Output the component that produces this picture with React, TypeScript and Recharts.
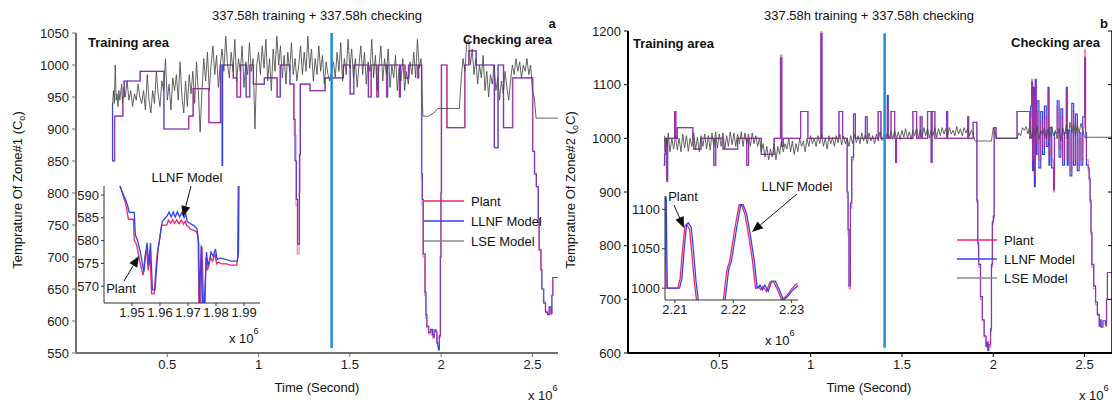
import React from 'react';
import { LineChart, Line, XAxis, YAxis } from 'recharts';

type Pt = [number, number];

const FONT = 'Liberation Sans, Arial, Helvetica, sans-serif';
const PLANT = '#f0226e';
const LLNF = '#2f45e8';
const LSE = '#4a4a4a';
const DIVIDER = '#1b8fd2';

const titleText = '337.58h training + 337.58h checking';
const mainXTicks = [0.5, 1, 1.5, 2, 2.5];
const leftYTicks = [550, 600, 650, 700, 750, 800, 850, 900, 950, 1000, 1050];
const rightYTicks = [600, 700, 800, 900, 1000, 1100, 1200];
const insetAXTicks = [1.95, 1.96, 1.97, 1.98, 1.99];
const insetAYTicks = [570, 575, 580, 585, 590];
const insetBXTicks = [2.21, 2.22, 2.23];
const insetBYTicks = [1000, 1050, 1100];
const legendNames = ['Plant', 'LLNF Model', 'LSE Model'];

const dividerA: Pt[] = [[1.4, 558], [1.4, 1050]];
const dividerB: Pt[] = [[1.405, 610], [1.405, 1196]];

// ---------- Panel a (Zone #1) ----------
const leftPlant: Pt[] = [
  [0.198, 850], [0.21, 920], [0.255, 950], [0.262, 975], [0.35, 990], [0.48, 900], [0.616, 920],
  [0.64, 963], [0.726, 910], [0.79, 1000], [0.86, 980], [0.88, 950], [0.9, 1000], [0.93, 950],
  [0.95, 1000], [0.97, 970], [1.03, 980], [1.1, 950], [1.117, 1000], [1.17, 970], [1.195, 890],
  [1.205, 780], [1.212, 705], [1.222, 800], [1.227, 970], [1.28, 960], [1.363, 980], [1.463, 1000],
  [1.5, 955], [1.52, 1000], [1.6, 950], [1.615, 1000], [1.646, 950], [1.655, 1000], [1.7, 950],
  [1.705, 1000], [1.77, 950], [1.775, 1000], [1.8, 980], [1.82, 1000], [1.87, 980], [1.875, 1000],
  [1.892, 820], [1.895, 780], [1.9, 700], [1.91, 640], [1.915, 605], [1.92, 590], [1.93, 580],
  [1.94, 585], [1.95, 577], [1.955, 573], [1.96, 585], [1.97, 582], [1.975, 565], [1.98, 575],
  [1.99, 574], [1.995, 700], [1.998, 800], [2.0, 1000], [2.03, 902], [2.128, 1000], [2.15, 1022],
  [2.19, 1000], [2.29, 871], [2.31, 1000], [2.34, 902], [2.39, 980], [2.5, 865], [2.51, 830],
  [2.52, 810], [2.53, 760], [2.535, 711], [2.545, 680], [2.55, 650], [2.56, 630], [2.57, 615],
  [2.58, 612], [2.59, 620], [2.6, 610], [2.605, 640], [2.61, 668], [2.64, 668],
];

const leftLlnf: Pt[] = [
  [0.198, 940], [0.2, 850], [0.212, 920], [0.257, 950], [0.264, 975], [0.352, 990], [0.482, 900],
  [0.618, 920], [0.642, 963], [0.728, 910], [0.792, 1000], [0.8, 843], [0.803, 1000], [0.862, 980],
  [0.882, 950], [0.902, 1000], [0.932, 950], [0.952, 1000], [0.972, 970], [1.032, 980], [1.102, 950],
  [1.119, 1000], [1.172, 970], [1.193, 915], [1.2, 850], [1.207, 790], [1.214, 720], [1.224, 860],
  [1.229, 970], [1.282, 960], [1.365, 980], [1.465, 1000], [1.502, 955], [1.522, 1000], [1.602, 950],
  [1.617, 1000], [1.648, 950], [1.657, 1000], [1.702, 950], [1.707, 1000], [1.772, 950], [1.777, 1000],
  [1.802, 980], [1.822, 1000], [1.872, 980], [1.877, 1000], [1.894, 830], [1.897, 790], [1.902, 705],
  [1.912, 645], [1.917, 610], [1.922, 592], [1.932, 582], [1.942, 587], [1.952, 579], [1.957, 575],
  [1.962, 586], [1.972, 583], [1.977, 566], [1.982, 560], [1.985, 555], [1.99, 577], [1.996, 700],
  [1.999, 800], [2.002, 1000], [2.032, 902], [2.13, 1000], [2.152, 1022], [2.192, 1000], [2.292, 871],
  [2.312, 1000], [2.342, 902], [2.392, 980], [2.502, 865], [2.512, 830], [2.522, 810], [2.532, 760],
  [2.537, 711], [2.547, 680], [2.552, 650], [2.562, 628], [2.572, 614], [2.582, 610], [2.592, 622],
  [2.602, 612], [2.607, 640], [2.612, 668], [2.64, 668],
];

const leftLse: Pt[] = [
  [0.2, 935], [0.205, 960], [0.21, 940], [0.215, 1000], [0.22, 945], [0.225, 955], [0.23, 935],
  [0.235, 960], [0.24, 945], [0.25, 970], [0.255, 940], [0.26, 965], [0.27, 950], [0.28, 975],
  [0.29, 945], [0.3, 960], [0.31, 935], [0.32, 955], [0.33, 945], [0.34, 970], [0.35, 950],
  [0.36, 940], [0.37, 960], [0.38, 930], [0.39, 985], [0.4, 945], [0.41, 925], [0.42, 960],
  [0.43, 940], [0.44, 990], [0.45, 955], [0.46, 935], [0.47, 975], [0.48, 960], [0.49, 1010],
  [0.5, 945], [0.51, 970], [0.52, 930], [0.53, 980], [0.54, 960], [0.55, 985], [0.56, 945],
  [0.57, 1005], [0.58, 950], [0.59, 925], [0.6, 975], [0.61, 935], [0.62, 985], [0.63, 955],
  [0.64, 990], [0.65, 940], [0.66, 1005], [0.67, 960], [0.68, 895], [0.69, 960], [0.7, 1010],
  [0.71, 975], [0.72, 1020], [0.73, 960], [0.74, 1000], [0.75, 1030], [0.76, 985], [0.77, 1015],
  [0.78, 965], [0.79, 1000], [0.8, 1025], [0.81, 990], [0.82, 1045], [0.83, 1000], [0.84, 980],
  [0.85, 1020], [0.86, 990], [0.87, 1040], [0.88, 975], [0.89, 1010], [0.9, 990], [0.91, 1030],
  [0.92, 965], [0.93, 1005], [0.94, 985], [0.95, 1035], [0.96, 990], [0.97, 1010], [0.98, 900],
  [0.99, 1000], [1.0, 1020], [1.01, 985], [1.02, 1030], [1.03, 995], [1.04, 1040], [1.05, 975],
  [1.06, 1010], [1.07, 960], [1.08, 1025], [1.09, 990], [1.1, 1045], [1.11, 1000], [1.12, 1030],
  [1.13, 980], [1.14, 1015], [1.15, 970], [1.16, 1020], [1.17, 990], [1.18, 1035], [1.19, 985],
  [1.2, 1010], [1.21, 975], [1.22, 1000], [1.23, 1030], [1.24, 985], [1.25, 1020], [1.26, 990],
  [1.27, 1045], [1.28, 995], [1.29, 1025], [1.3, 975], [1.31, 1010], [1.32, 985], [1.33, 1030],
  [1.34, 990], [1.35, 1015], [1.36, 970], [1.37, 1005], [1.38, 985], [1.39, 975], [1.4, 990],
  [1.41, 1005], [1.42, 980], [1.43, 1020], [1.44, 990], [1.45, 1035], [1.46, 975], [1.47, 1010],
  [1.48, 985], [1.49, 1040], [1.5, 995], [1.51, 1025], [1.52, 980], [1.53, 1010], [1.54, 965],
  [1.55, 1000], [1.56, 1030], [1.57, 985], [1.58, 1020], [1.59, 970], [1.6, 1005], [1.61, 990],
  [1.62, 1040], [1.63, 980], [1.64, 1015], [1.65, 960], [1.66, 1000], [1.67, 1030], [1.68, 975],
  [1.69, 1010], [1.7, 985], [1.71, 1025], [1.72, 965], [1.73, 1000], [1.74, 980], [1.75, 1015],
  [1.76, 960], [1.77, 995], [1.78, 975], [1.79, 1010], [1.8, 960], [1.81, 990], [1.82, 970],
  [1.83, 1005], [1.84, 985], [1.85, 1020], [1.86, 980], [1.87, 1040], [1.88, 995], [1.89, 1010],
  [1.9, 920], [1.93, 920], [1.94, 922], [1.96, 925], [1.98, 932], [2.1, 932], [2.11, 980],
  [2.12, 1010], [2.13, 990], [2.14, 1035], [2.15, 1040], [2.16, 1000], [2.17, 1025], [2.18, 985],
  [2.19, 1010], [2.2, 970], [2.21, 1000], [2.22, 980], [2.23, 1015], [2.24, 960], [2.25, 990],
  [2.26, 950], [2.27, 985], [2.28, 970], [2.29, 1000], [2.3, 960], [2.31, 980], [2.32, 945],
  [2.33, 975], [2.34, 955], [2.35, 990], [2.36, 965], [2.37, 945], [2.38, 975], [2.39, 1000],
  [2.4, 985], [2.41, 1010], [2.42, 990], [2.43, 1005], [2.44, 980], [2.45, 1000], [2.46, 990],
  [2.47, 1010], [2.48, 985], [2.49, 1000], [2.5, 960], [2.51, 950], [2.52, 917], [2.64, 917],
];

const insetAPlant: Pt[] = [
  [1.9457, 592.2], [1.9475, 588.5], [1.948, 587.4], [1.9487, 584.7], [1.9505, 584.7], [1.9508, 580.1],
  [1.9517, 579], [1.9526, 576], [1.9535, 573.5], [1.954, 572.4], [1.9546, 576.4], [1.9552, 577.9],
  [1.9558, 573.5], [1.9564, 577.9], [1.957, 568.3], [1.9579, 568.3], [1.9586, 574.2], [1.959, 577.1],
  [1.9598, 580.1], [1.9606, 583.4], [1.9624, 583.4], [1.963, 584.5], [1.9638, 583.8], [1.9645, 584.6],
  [1.9652, 583.8], [1.966, 584.6], [1.9668, 583.7], [1.9676, 584.5], [1.9684, 583.6], [1.969, 584.3],
  [1.9695, 583.4], [1.9707, 582.6], [1.9719, 582.3], [1.973, 581.9], [1.9736, 581], [1.9739, 566],
  [1.9745, 566], [1.975, 578.6], [1.9755, 566], [1.9761, 566], [1.9764, 576.4], [1.9769, 573.5],
  [1.9776, 574.9], [1.978, 576.4], [1.9788, 575.5], [1.9796, 577.1], [1.9802, 574.9], [1.9808, 575.3],
  [1.982, 574.9], [1.9838, 574.9], [1.985, 574.6], [1.9874, 574.6], [1.9877, 576.4], [1.9879, 592.2],
];

const insetALlnf: Pt[] = [
  [1.9455, 592.2], [1.9478, 588.8], [1.9484, 587.8], [1.949, 586.2], [1.9508, 586.2], [1.9512, 581.2],
  [1.952, 580], [1.953, 577.5], [1.9538, 574.5], [1.9543, 573.2], [1.9549, 577.5], [1.9554, 579.5],
  [1.956, 574.5], [1.9566, 579.5], [1.9573, 569.2], [1.9582, 569.2], [1.9589, 575], [1.9593, 578],
  [1.96, 581], [1.9608, 584.2], [1.9626, 585.5], [1.9632, 586.3], [1.964, 585.2], [1.9647, 586.3],
  [1.9654, 585.2], [1.9662, 586.3], [1.967, 585.2], [1.9678, 586.2], [1.9686, 585.1], [1.9692, 585.8],
  [1.9697, 584.2], [1.9709, 583.7], [1.9721, 583.3], [1.9732, 582.6], [1.9738, 579.5], [1.9741, 566],
  [1.9747, 579], [1.9752, 566], [1.9758, 566], [1.9766, 577.5], [1.9771, 574.5], [1.9778, 576],
  [1.9782, 577.5], [1.979, 576.5], [1.9798, 578.2], [1.9804, 575.8], [1.9815, 576.2], [1.984, 575.8],
  [1.9852, 575.5], [1.9876, 575.5], [1.988, 577], [1.9882, 592.2],
];

// ---------- Panel b (Zone #2) ----------
const rightPlant: Pt[] = [
  [0.195, 950], [0.203, 1000], [0.212, 920], [0.217, 1000], [0.255, 1050], [0.262, 1000], [0.27, 1020],
  [0.355, 1000], [0.36, 980], [0.4, 1000], [0.47, 950], [0.48, 1000], [0.52, 980], [0.6, 1000],
  [0.65, 950], [0.66, 1000], [0.73, 970], [0.8, 1000], [0.835, 1155], [0.842, 985], [0.85, 1000],
  [0.945, 1050], [0.985, 1000], [1.056, 1200], [1.062, 1000], [1.155, 1050], [1.175, 1000],
  [1.2, 890], [1.205, 820], [1.21, 720], [1.218, 870], [1.225, 960], [1.235, 1045], [1.245, 1000],
  [1.3, 1040], [1.31, 1000], [1.37, 1050], [1.385, 1000], [1.42, 1060], [1.425, 1000], [1.44, 1050],
  [1.46, 1000], [1.465, 955], [1.47, 1000], [1.56, 1050], [1.58, 1000], [1.6, 1040], [1.61, 1000],
  [1.64, 1050], [1.66, 955], [1.665, 1050], [1.68, 1000], [1.745, 1050], [1.75, 1000], [1.86, 1040],
  [1.865, 1000], [1.89, 1030], [1.91, 880], [1.915, 800], [1.92, 760], [1.93, 700], [1.94, 660],
  [1.95, 630], [1.96, 615], [1.97, 622], [1.975, 610], [1.985, 640], [1.99, 760], [1.995, 840],
  [2.0, 850], [2.005, 1020], [2.015, 1000], [2.13, 1050], [2.2, 1000], [2.205, 1040], [2.21, 1110],
  [2.215, 960], [2.22, 1080], [2.225, 930], [2.23, 1100], [2.235, 990], [2.24, 1050], [2.25, 960],
  [2.26, 1030], [2.27, 985], [2.28, 1040], [2.29, 1000], [2.3, 1090], [2.305, 970], [2.31, 1000],
  [2.32, 960], [2.33, 900], [2.335, 1000], [2.35, 1060], [2.36, 980], [2.37, 1040], [2.38, 960],
  [2.39, 1000], [2.4, 1090], [2.405, 960], [2.41, 1000], [2.42, 940], [2.43, 1050], [2.44, 960],
  [2.45, 1030], [2.46, 950], [2.47, 1000], [2.48, 960], [2.49, 1020], [2.5, 1165], [2.505, 1000],
  [2.51, 960], [2.52, 940], [2.525, 920], [2.53, 880], [2.535, 820], [2.54, 760], [2.55, 720],
  [2.56, 690], [2.57, 670], [2.58, 655], [2.585, 660], [2.59, 650], [2.6, 655], [2.615, 650],
  [2.62, 700], [2.625, 750], [2.65, 750],
];

const rightLlnf: Pt[] = [
  [0.195, 950], [0.2, 970], [0.203, 1000], [0.212, 920], [0.217, 1000], [0.255, 1050], [0.262, 1000],
  [0.27, 1020], [0.355, 1000], [0.36, 980], [0.4, 1000], [0.47, 950], [0.48, 1000], [0.52, 980],
  [0.6, 1000], [0.65, 950], [0.66, 1000], [0.73, 970], [0.8, 1000], [0.835, 1150], [0.842, 985],
  [0.85, 1000], [0.945, 1050], [0.985, 1000], [1.056, 1195], [1.062, 1000], [1.155, 1050],
  [1.175, 1000], [1.2, 900], [1.205, 830], [1.21, 725], [1.218, 880], [1.225, 965], [1.235, 1045],
  [1.245, 1000], [1.3, 1040], [1.31, 1000], [1.37, 1050], [1.385, 1000], [1.42, 1080], [1.425, 1000],
  [1.44, 1050], [1.46, 1000], [1.465, 955], [1.47, 1000], [1.56, 1050], [1.58, 1000], [1.6, 1040],
  [1.61, 1000], [1.64, 1050], [1.66, 955], [1.665, 1050], [1.68, 1000], [1.745, 1050], [1.75, 1000],
  [1.86, 1040], [1.865, 1000], [1.89, 1030], [1.91, 885], [1.915, 805], [1.92, 765], [1.93, 705],
  [1.94, 662], [1.95, 632], [1.96, 612], [1.965, 620], [1.97, 605], [1.975, 615], [1.985, 645],
  [1.99, 765], [1.995, 845], [2.0, 855], [2.005, 1020], [2.015, 1000], [2.13, 1050], [2.2, 1000],
  [2.205, 1060], [2.21, 1105], [2.215, 940], [2.22, 1095], [2.225, 910], [2.23, 1110], [2.235, 970],
  [2.24, 1070], [2.25, 945], [2.26, 1050], [2.27, 970], [2.28, 1060], [2.29, 985], [2.3, 1095],
  [2.305, 950], [2.31, 1020], [2.32, 945], [2.33, 905], [2.335, 1010], [2.35, 1070], [2.36, 965],
  [2.37, 1055], [2.38, 950], [2.39, 1010], [2.4, 1095], [2.405, 950], [2.41, 1015], [2.42, 930],
  [2.43, 1065], [2.44, 950], [2.45, 1045], [2.46, 940], [2.47, 1010], [2.48, 950], [2.49, 1040],
  [2.5, 1150], [2.505, 1010], [2.51, 950], [2.52, 945], [2.525, 925], [2.53, 885], [2.535, 825],
  [2.54, 765], [2.55, 725], [2.56, 695], [2.57, 672], [2.58, 650], [2.585, 662], [2.59, 648],
  [2.6, 660], [2.615, 652], [2.62, 700], [2.625, 750], [2.65, 750],
];

const rightLse: Pt[] = [
  [0.2, 1005], [0.205, 975], [0.21, 1000], [0.215, 985], [0.22, 1010], [0.23, 975], [0.24, 1000],
  [0.25, 980], [0.26, 1005], [0.27, 978], [0.28, 1000], [0.29, 975], [0.3, 1008], [0.31, 982],
  [0.32, 1005], [0.33, 976], [0.34, 1000], [0.35, 985], [0.36, 1010], [0.37, 978], [0.38, 1002],
  [0.39, 975], [0.4, 1005], [0.41, 985], [0.42, 1008], [0.43, 980], [0.44, 1005], [0.45, 978],
  [0.46, 1010], [0.47, 985], [0.48, 1012], [0.49, 982], [0.5, 1008], [0.51, 985], [0.52, 1010],
  [0.53, 980], [0.54, 1005], [0.55, 985], [0.56, 1012], [0.57, 988], [0.58, 1010], [0.59, 985],
  [0.6, 1008], [0.61, 990], [0.62, 1012], [0.63, 985], [0.64, 1010], [0.65, 990], [0.66, 1008],
  [0.67, 985], [0.68, 1010], [0.69, 990], [0.7, 1005], [0.71, 985], [0.72, 1000], [0.73, 975],
  [0.74, 990], [0.75, 965], [0.76, 985], [0.77, 960], [0.78, 980], [0.79, 965], [0.8, 990],
  [0.81, 960], [0.82, 985], [0.83, 970], [0.84, 995], [0.85, 975], [0.86, 990], [0.87, 980],
  [0.88, 1000], [0.89, 975], [0.9, 995], [0.91, 970], [0.92, 990], [0.93, 975], [0.94, 1000],
  [0.95, 985], [0.96, 995], [0.97, 975], [0.98, 1000], [0.99, 985], [1.0, 1005], [1.01, 990],
  [1.02, 1000], [1.03, 985], [1.04, 1005], [1.05, 990], [1.06, 1008], [1.07, 985], [1.08, 1000],
  [1.09, 980], [1.1, 1005], [1.11, 990], [1.12, 1002], [1.13, 985], [1.14, 1005], [1.15, 992],
  [1.16, 1008], [1.17, 988], [1.18, 1004], [1.19, 990], [1.2, 1000], [1.21, 985], [1.22, 1005],
  [1.23, 990], [1.24, 1008], [1.25, 992], [1.26, 1005], [1.27, 990], [1.28, 1010], [1.29, 995],
  [1.3, 1008], [1.31, 990], [1.32, 1010], [1.33, 995], [1.34, 1005], [1.35, 990], [1.36, 1008],
  [1.37, 995], [1.38, 1012], [1.39, 996], [1.4, 1005], [1.41, 998], [1.42, 1010], [1.43, 1000],
  [1.44, 1012], [1.45, 998], [1.46, 1015], [1.47, 1000], [1.48, 1012], [1.49, 998], [1.5, 1015],
  [1.51, 1002], [1.52, 1018], [1.53, 1000], [1.54, 1012], [1.55, 998], [1.56, 1015], [1.57, 1005],
  [1.58, 1020], [1.59, 1000], [1.6, 1015], [1.61, 1002], [1.62, 1020], [1.63, 1005], [1.64, 1018],
  [1.65, 1000], [1.66, 1015], [1.67, 1005], [1.68, 1020], [1.69, 1002], [1.7, 1018], [1.71, 1005],
  [1.72, 1020], [1.73, 1008], [1.74, 1018], [1.75, 1005], [1.76, 1020], [1.77, 1008], [1.78, 1015],
  [1.79, 1005], [1.8, 1022], [1.81, 1008], [1.82, 1018], [1.83, 1005], [1.84, 1020], [1.85, 1010],
  [1.86, 1018], [1.87, 1005], [1.88, 1015], [1.89, 1008], [1.9, 995], [1.99, 995], [2.0, 1020],
  [2.01, 1010], [2.02, 1000], [2.13, 1000], [2.14, 1010], [2.15, 1005], [2.16, 1020], [2.17, 1015],
  [2.18, 1022], [2.19, 1008], [2.2, 1025], [2.21, 1000], [2.22, 1018], [2.23, 1005], [2.24, 1022],
  [2.25, 998], [2.26, 1015], [2.27, 1005], [2.28, 1020], [2.29, 1000], [2.3, 1018], [2.31, 1002],
  [2.32, 1022], [2.33, 1005], [2.34, 1015], [2.35, 1000], [2.36, 1018], [2.37, 995], [2.38, 1020],
  [2.39, 1005], [2.4, 1025], [2.41, 1000], [2.42, 1030], [2.43, 1010], [2.44, 1028], [2.45, 1005],
  [2.46, 1025], [2.47, 1010], [2.48, 1028], [2.49, 1015], [2.5, 1002], [2.65, 1002],
];

const insetBPlant: Pt[] = [
  [2.2084, 1116], [2.2084, 1048], [2.2085, 1000], [2.2105, 1000], [2.2109, 1012.5], [2.2113, 1048],
  [2.2117, 1079], [2.212, 1081], [2.2125, 1075], [2.2129, 1044], [2.2133, 1010], [2.2137, 985],
  [2.214, 970], [2.2178, 970], [2.2183, 985], [2.2189, 1023], [2.2194, 1035], [2.2203, 1077],
  [2.221, 1106], [2.2214, 1106], [2.222, 1094], [2.2226, 1069], [2.2233, 1035], [2.2238, 1000],
  [2.2243, 1002], [2.2247, 998], [2.2251, 1002], [2.2257, 996], [2.2263, 1008], [2.2269, 1008],
  [2.2276, 998], [2.2283, 985], [2.2291, 990], [2.2297, 996], [2.2306, 1004], [2.231, 1006],
];

const insetBLlnf: Pt[] = [
  [2.2085, 1116], [2.2086, 1048], [2.2087, 1000], [2.2108, 1000], [2.2112, 1012.5], [2.2116, 1050],
  [2.212, 1081], [2.2123, 1083], [2.2128, 1077], [2.2132, 1046], [2.2136, 1010], [2.214, 985],
  [2.2143, 970], [2.2181, 970], [2.2186, 985], [2.2192, 1023], [2.2197, 1035], [2.2206, 1077],
  [2.2213, 1106], [2.2217, 1106], [2.2223, 1094], [2.2229, 1069], [2.2236, 1035], [2.2241, 1000],
  [2.2246, 1004], [2.225, 998], [2.2254, 1004], [2.226, 996], [2.2266, 1009], [2.2272, 1009],
  [2.2279, 998], [2.2286, 985], [2.2294, 990], [2.23, 996], [2.2309, 1002], [2.2312, 1004],
];

const rows = (p: Pt[]) => p.map(([x, y]) => ({ x, y }));

const tickStyle = { fill: '#1a1a1a', fontSize: 13, fontFamily: FONT };

function series(data: Pt[], color: string, type: 'stepAfter' | 'linear', width: number, opacity = 1) {
  return (
    <Line
      data={rows(data)}
      dataKey="y"
      type={type}
      dot={false}
      activeDot={false}
      isAnimationActive={false}
      stroke={color}
      strokeWidth={width}
      strokeOpacity={opacity}
      legendType="none"
    />
  );
}

function Arrow({ x1, y1, x2, y2 }: { x1: number; y1: number; x2: number; y2: number }) {
  const ang = Math.atan2(y2 - y1, x2 - x1);
  const L = 11;
  const W = 4.5;
  const bx = x2 - L * Math.cos(ang);
  const by = y2 - L * Math.sin(ang);
  const px = -Math.sin(ang) * W;
  const py = Math.cos(ang) * W;
  return (
    <g>
      <line x1={x1} y1={y1} x2={bx} y2={by} stroke="#111" strokeWidth={1} />
      <polygon points={`${x2},${y2} ${bx + px},${by + py} ${bx - px},${by - py}`} fill="#111" />
    </g>
  );
}

function Legend({ x, y0, gap }: { x: number; y0: number; gap: number }) {
  const colors = [PLANT, LLNF, '#8a8a8a'];
  return (
    <g>
      {legendNames.map((n, i) => (
        <g key={n}>
          <line x1={x} x2={x + 40} y1={y0 + i * gap} y2={y0 + i * gap} stroke={colors[i]} strokeWidth={1.3} />
          <text x={x + 47} y={y0 + i * gap + 5} fontSize={13} fontFamily={FONT} fill="#111">{n}</text>
        </g>
      ))}
    </g>
  );
}

export default function App() {
  return (
    <div style={{ position: 'absolute', left: 0, top: 0, width: 1112, height: 402, background: '#fff', overflow: 'hidden' }}>
      {/* Panel a */}
      <div style={{ position: 'absolute', left: 0, top: 0 }}>
        <LineChart width={560} height={402} margin={{ top: 33, right: 2, bottom: 19, left: 0 }}>
          <XAxis dataKey="x" type="number" domain={[0, 2.64]} ticks={mainXTicks} interval={0} allowDataOverflow
            height={30} tickSize={4} tickMargin={3} axisLine={{ stroke: '#707070', strokeWidth: 2 }}
            tickLine={{ stroke: '#707070' }} tick={tickStyle} />
          <YAxis type="number" domain={[550, 1050]} ticks={leftYTicks} interval={0} allowDataOverflow
            width={76} tickSize={4} tickMargin={3} axisLine={{ stroke: '#707070', strokeWidth: 2 }}
            tickLine={{ stroke: '#707070' }} tick={tickStyle} />
          {series(leftLlnf, LLNF, 'stepAfter', 1.2)}
          {series(leftPlant, PLANT, 'stepAfter', 1.2, 0.55)}
          {series(leftLse, LSE, 'linear', 1, 0.85)}
          {series(dividerA, DIVIDER, 'linear', 2.5)}
        </LineChart>
      </div>

      {/* Inset a */}
      <div style={{ position: 'absolute', left: 74, top: 180 }}>
        <LineChart width={196} height={160} margin={{ top: 6, right: 10, bottom: 12, left: 0 }}>
          <XAxis dataKey="x" type="number" domain={[1.94, 1.9957]} ticks={insetAXTicks} interval={0} allowDataOverflow
            height={25} tickSize={3} tickMargin={2} axisLine={{ stroke: '#333', strokeWidth: 1 }}
            tickLine={{ stroke: '#333' }} tick={tickStyle} tickFormatter={(v: number) => v.toFixed(2)} />
          <YAxis type="number" domain={[566.3, 592]} ticks={insetAYTicks} interval={0} allowDataOverflow
            width={30} tickSize={3} tickMargin={2} axisLine={{ stroke: '#333', strokeWidth: 1 }}
            tickLine={{ stroke: '#333' }} tick={tickStyle} />
          {series(insetAPlant, PLANT, 'linear', 1.3)}
          {series(insetALlnf, LLNF, 'linear', 1.3)}
        </LineChart>
      </div>

      {/* Panel b */}
      <div style={{ position: 'absolute', left: 560, top: 0 }}>
        <LineChart width={552} height={402} margin={{ top: 31, right: 0, bottom: 19, left: 0 }}>
          <XAxis dataKey="x" type="number" domain={[0, 2.65]} ticks={mainXTicks} interval={0} allowDataOverflow
            height={30} tickSize={4} tickMargin={3} axisLine={{ stroke: '#000', strokeWidth: 2 }}
            tickLine={{ stroke: '#000' }} tick={tickStyle} />
          <XAxis xAxisId="top" orientation="top" dataKey="x" type="number" domain={[0, 2.65]} ticks={mainXTicks}
            interval={0} allowDataOverflow height={0} tickSize={4} axisLine={{ stroke: '#000', strokeWidth: 2 }}
            tickLine={{ stroke: '#000' }} tick={tickStyle} tickFormatter={() => ''} />
          <YAxis type="number" domain={[600, 1200]} ticks={rightYTicks} interval={0} allowDataOverflow
            width={68} tickSize={4} tickMargin={3} axisLine={{ stroke: '#000', strokeWidth: 2 }}
            tickLine={{ stroke: '#000' }} tick={tickStyle} />
          <YAxis yAxisId="r" orientation="right" type="number" domain={[600, 1200]} ticks={rightYTicks}
            interval={0} allowDataOverflow width={2} mirror tickSize={4} axisLine={{ stroke: '#000', strokeWidth: 1.5 }}
            tickLine={{ stroke: '#000' }} tick={tickStyle} tickFormatter={() => ''} />
          {series(rightLlnf, LLNF, 'stepAfter', 1.2)}
          {series(rightPlant, PLANT, 'stepAfter', 1.2, 0.55)}
          {series(rightLse, LSE, 'linear', 1, 0.85)}
          {series(dividerB, DIVIDER, 'linear', 2.5)}
        </LineChart>
      </div>

      {/* Inset b */}
      <div style={{ position: 'absolute', left: 630, top: 190 }}>
        <LineChart width={184} height={150} margin={{ top: 6, right: 16, bottom: 15, left: 0 }}>
          <XAxis dataKey="x" type="number" domain={[2.2083, 2.2311]} ticks={insetBXTicks} interval={0} allowDataOverflow
            height={25} tickSize={3} tickMargin={2} axisLine={{ stroke: '#333', strokeWidth: 1 }}
            tickLine={{ stroke: '#333' }} tick={tickStyle} tickFormatter={(v: number) => v.toFixed(2)} />
          <YAxis type="number" domain={[985, 1117]} ticks={insetBYTicks} interval={0} allowDataOverflow
            width={35} tickSize={3} tickMargin={2} axisLine={{ stroke: '#333', strokeWidth: 1 }}
            tickLine={{ stroke: '#333' }} tick={tickStyle} />
          {series(insetBPlant, PLANT, 'linear', 1.3)}
          {series(insetBLlnf, LLNF, 'linear', 1.3)}
        </LineChart>
      </div>

      {/* Text overlay */}
      <svg width={1112} height={402} style={{ position: 'absolute', left: 0, top: 0, pointerEvents: 'none' }}>
        <g fontFamily={FONT} fill="#111">
          <text x={317} y={20} fontSize={13} textAnchor="middle">{titleText}</text>
          <text x={869} y={20} fontSize={13} textAnchor="middle">{titleText}</text>
          <text x={552} y={28} fontSize={13} fontWeight="bold" textAnchor="middle">a</text>
          <text x={1104} y={28} fontSize={13} fontWeight="bold" textAnchor="middle">b</text>
          <text x={88} y={47} fontSize={13} fontWeight="bold">Training area</text>
          <text x={463} y={44} fontSize={13} fontWeight="bold">Checking area</text>
          <text x={633} y={48} fontSize={13} fontWeight="bold">Training area</text>
          <text x={1011} y={47} fontSize={13} fontWeight="bold">Checking area</text>

          <text transform="translate(22,190) rotate(-90)" fontSize={13} textAnchor="middle">
            Temprature Of Zone#1 (C<tspan fontSize={9} dy={3}>o</tspan><tspan dy={-3}>)</tspan>
          </text>
          <text transform="translate(575,190) rotate(-90)" fontSize={13} textAnchor="middle">
            Temprature Of Zone#2 (<tspan fontSize={9} dy={3}>o</tspan><tspan dy={-3}>C)</tspan>
          </text>

          <text x={317} y={392} fontSize={13} textAnchor="middle">Time (Second)</text>
          <text x={869} y={392} fontSize={13} textAnchor="middle">Time (Second)</text>

          <text x={528} y={400} fontSize={13}>x 10<tspan fontSize={9} dy={-9}>6</tspan></text>
          <text x={1079} y={400} fontSize={13}>x 10<tspan fontSize={9} dy={-9}>6</tspan></text>
          <text x={229} y={343} fontSize={13}>x 10<tspan fontSize={9} dy={-9}>6</tspan></text>
          <text x={765} y={345} fontSize={13}>x 10<tspan fontSize={9} dy={-9}>6</tspan></text>

          {/* inset annotations */}
          <text x={187} y={182} fontSize={13} textAnchor="middle">LLNF Model</text>
          <Arrow x1={191} y1={186} x2={183} y2={217} />
          <text x={121} y={293} fontSize={13} textAnchor="middle">Plant</text>
          <Arrow x1={124} y1={281} x2={139} y2={256} />

          <text x={683} y={201} fontSize={13} textAnchor="middle">Plant</text>
          <Arrow x1={674} y1={205} x2={684} y2={228} />
          <text x={797} y={191} fontSize={13} textAnchor="middle">LLNF Model</text>
          <Arrow x1={797} y1={194} x2={752} y2={232} />
        </g>
        <Legend x={424} y0={201} gap={20} />
        <Legend x={957} y0={240} gap={19} />
      </svg>
    </div>
  );
}
